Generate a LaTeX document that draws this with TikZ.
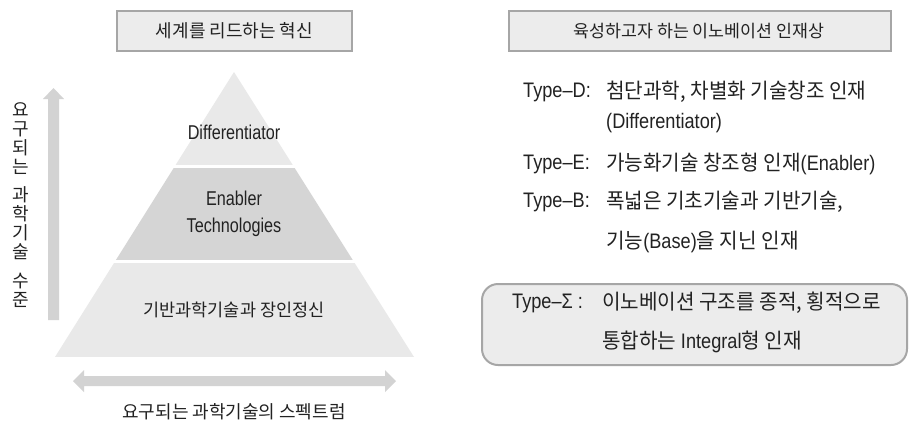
\documentclass[tikz,border=0pt]{standalone}
\usepackage{fontspec}
\setmainfont{Noto Sans CJK KR}
\newfontfamily\hfont{Noto Sans CJK KR}[FakeStretch=0.96]
\newfontfamily\lfont{Liberation Sans}[FakeStretch=0.865]
\newfontfamily\pfont{Liberation Sans}[FakeStretch=0.81]
\newcommand\rl[1]{{\lfont\fontsize{21}{25}\selectfont #1}}
\definecolor{txt}{HTML}{222222}
\definecolor{boxfill}{HTML}{ECECEC}
\definecolor{boxline}{HTML}{A6A6A6}
\definecolor{pyrlight}{HTML}{E9E9E9}
\definecolor{pyrdark}{HTML}{D5D5D5}
\definecolor{arrowc}{HTML}{D3D3D3}
\begin{document}
\begin{tikzpicture}[x=1pt,y=-1pt,
  every node/.style={text=txt,inner sep=0pt},
  titlebox/.style={draw=boxline,fill=boxfill,line width=2pt},
  ttl/.style={font=\fontsize{18}{21}\selectfont},
  ttlr/.style={font=\fontsize{17.3}{21}\selectfont},
  pyr/.style={font=\pfont\fontsize{20}{24}\selectfont,align=center},
  pyrk/.style={font=\fontsize{17.5}{21}\selectfont},
  rtxt/.style={font=\hfont\fontsize{21}{25}\selectfont,anchor=west},
  vchar/.style={font=\fontsize{18}{21}\selectfont}]
\useasboundingbox[fill=white] (0,0) rectangle (909,421);
% title boxes
\draw[titlebox] (117,11) rectangle (352,51);
\node[ttl] (t1) at (234.5,31) {세계를 리드하는 혁신};
\draw[titlebox] (509,11) rectangle (891,51);
\node[ttlr] (t2) at (699,31) {육성하고자 하는 이노베이션 인재상};
% pyramid
\begin{scope}
\clip (234,72) -- (55,357) -- (414,357) -- cycle;
\fill[pyrlight] (0,60) rectangle (460,165);
\fill[pyrdark] (0,168) rectangle (460,260);
\fill[pyrlight] (0,262.5) rectangle (460,357);
\end{scope}
\node[pyr] (p1) at (234,132) {Differentiator};
\node[pyr] (p2) at (234,214) {Enabler\\[3pt]Technologies};
\node[pyrk] (p3) at (234,310) {기반과학기술과 장인정신};
% vertical arrow
\fill[arrowc] (48,320) -- (48,99) -- (43,99) -- (53.5,88) -- (64,99) -- (59,99) -- (59,320) -- cycle;
% vertical text
\foreach \c/\yy [count=\i] in {요/110,구/129,되/148,는/167,과/195,학/214,기/233,술/252,수/281,준/300}
  \node[vchar] (v\i) at (21,\yy) {\c};
% horizontal double arrow
\fill[arrowc] (73,381) -- (84,370) -- (84,376) -- (385,376) -- (385,370) -- (396,381) -- (385,392) -- (385,386) -- (84,386) -- (84,392) -- cycle;
\node[ttl] (h1) at (234,412) {요구되는 과학기술의 스펙트럼};
% right column
\node[rtxt] (d1) at (523,92) {\rl{Type–D:}};
\node[rtxt] (d2) at (606,92) {첨단과학, 차별화 기술창조 인재};
\node[rtxt] (d3) at (606,123) {\rl{(Differentiator)}};
\node[rtxt] (e1) at (523,164) {\rl{Type–E:}};
\node[rtxt] (e2) at (606,164) {가능화기술 창조형 인재\rl{(Enabler)}};
\node[rtxt] (b1) at (523,202) {\rl{Type–B:}};
\node[rtxt] (b2) at (606,202) {폭넓은 기초기술과 기반기술,};
\node[rtxt] (b3) at (606,242) {기능\rl{(Base)}을 지닌 인재};
% sigma box
\draw[titlebox,rounded corners=16pt] (482,284) rectangle (907,365);
\node[rtxt] (s1) at (512,303) {\rl{Type–Σ :}};
\node[rtxt] (s2) at (602,303) {이노베이션 구조를 종적, 횡적으로};
\node[rtxt,anchor=center] (s3) at (702,342) {통합하는 \rl{Integral}형 인재};
\end{tikzpicture}
\end{document}
